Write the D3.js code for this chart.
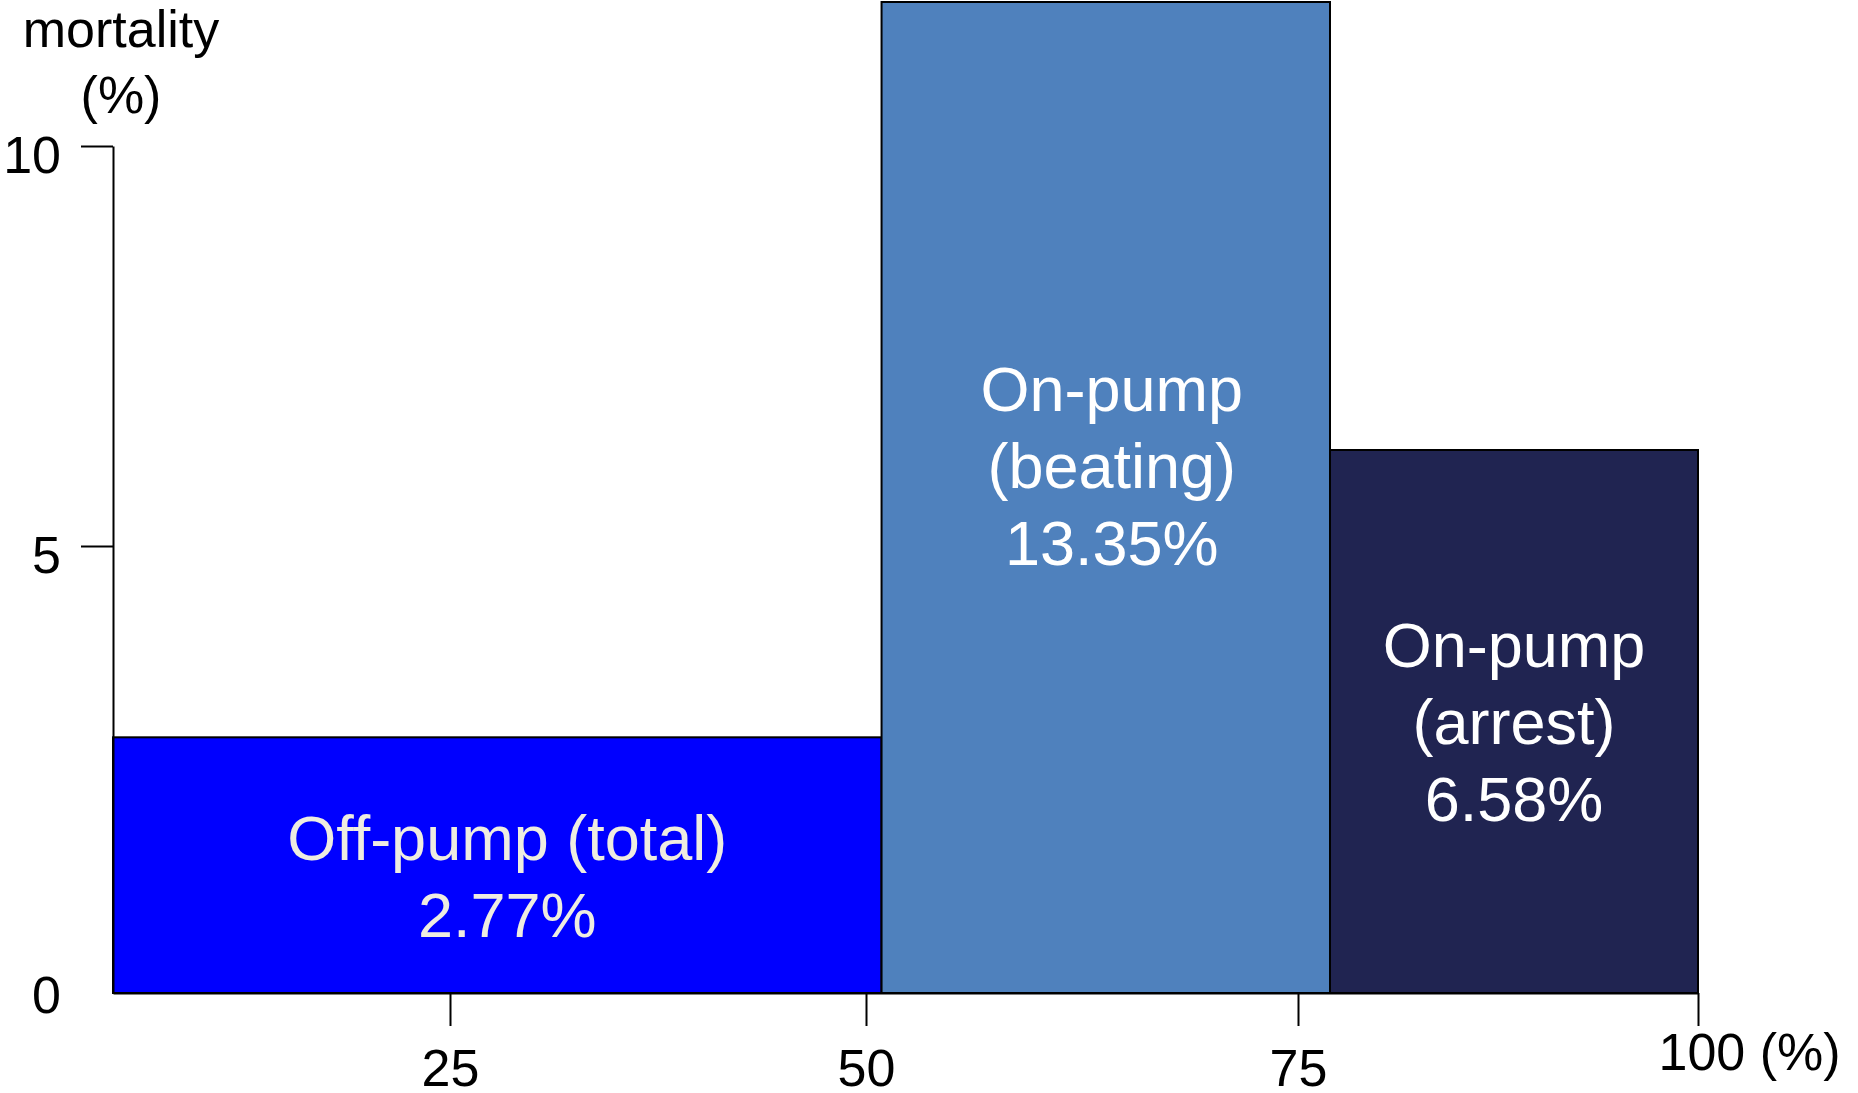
<!DOCTYPE html>
<html>
<head>
<meta charset="utf-8">
<script src="https://cdn.jsdelivr.net/npm/d3@7"></script>
<style>
  body { margin: 0; background: #fff; }
  text { font-family: "Liberation Sans", Arial, sans-serif; }
</style>
</head>
<body>
<script>
// groups, share of patients (x, %) and bar heights
var groups = ["Off-pump (total)", "On-pump (beating)", "On-pump (arrest)"]
var shares = [50.9, 26.1, 23.0]
var heights = [2.86, 11.8, 6.2]
var mortality = ["2.77%", "13.35%", "6.58%"]
var labelLines = [["Off-pump (total)", "2.77%"], ["On-pump", "(beating)", "13.35%"], ["On-pump", "(arrest)", "6.58%"]]
var colors = ["#0000ff", "#4f81bd", "#202451"]
var textColors = ["#eeece1", "#ffffff", "#ffffff"]

var xTicks = [25, 50, 75, 100]
var yTicks = [0, 5, 10]

var width = 1858
var height = 1093

var svg = d3.select("body")
            .append("svg")
            .attr("width", width)
            .attr("height", height)

// axes in the original are not evenly spaced, so the scales are piecewise
var xScale = d3.scaleLinear()
                .domain([0, 25, 50, 75, 100])
                .range([113, 450, 866, 1298, 1698])

var yScale = d3.scaleLinear()
                .domain([0, 5, 10])
                .range([993, 546, 146])

var start = 0
var bars = shares.map(function(s, i){
  var b = {x0: start, x1: start + s, h: heights[i], i: i}
  start += s
  return b
})

svg.selectAll("rect.bar")
   .data(bars)
   .enter()
   .append("rect")
   .attr("class", "bar")
   .attr("x", function(d){ return xScale(d.x0) })
   .attr("y", function(d){ return yScale(d.h) })
   .attr("width", function(d){ return xScale(d.x1) - xScale(d.x0) })
   .attr("height", function(d){ return yScale(0) - yScale(d.h) })
   .attr("fill", function(d){ return colors[d.i] })
   .attr("stroke", "#000")
   .attr("stroke-width", 2)

// labels inside bars (small nudges so they sit like the original)
var fs = 63
var lineGap = 77
var nudgeX = [10, 6, 0]
var nudgeY = [11, -32, 0]
bars.forEach(function(d){
  var lines = labelLines[d.i]
  var cx = (xScale(d.x0) + xScale(d.x1)) / 2 + nudgeX[d.i]
  var cy = (yScale(d.h) + yScale(0)) / 2 + nudgeY[d.i]
  var first = cy - (lines.length - 1) / 2 * lineGap + fs * 0.36
  var t = svg.append("text")
             .attr("text-anchor", "middle")
             .attr("font-size", fs)
             .attr("fill", textColors[d.i])
  lines.forEach(function(l, j){
    t.append("tspan")
     .attr("x", cx)
     .attr("y", first + j * lineGap)
     .text(l)
  })
})

var xAxis = d3.axisBottom(xScale)
              .tickValues(xTicks)
              .tickSize(33)
              .tickSizeOuter(0)
              .tickPadding(23)
              .tickFormat(function(d){ return d == 100 ? "100 (%)" : d })

var yAxis = d3.axisLeft(yScale)
              .tickValues(yTicks)
              .tickSize(32)
              .tickSizeOuter(0)
              .tickPadding(20)

var gx = svg.append("g")
   .attr("class", "axis")
   .attr("transform", "translate(0," + yScale(0) + ")")
   .call(xAxis)

var gy = svg.append("g")
   .attr("class", "axis")
   .attr("transform", "translate(" + xScale(0) + ",0)")
   .call(yAxis)

svg.selectAll(".axis path, .axis line")
   .attr("stroke", "#000")
   .attr("stroke-width", 2)
svg.selectAll(".axis text")
   .attr("font-family", "Liberation Sans, Arial, sans-serif")
   .attr("font-size", 52)
   .attr("fill", "#000")

gy.selectAll(".tick text").attr("dy", "0.5em")
gy.selectAll(".tick").filter(function(d){ return d == 0 }).select("text").attr("dy", "0.38em")
gy.selectAll(".tick").filter(function(d){ return d == 0 }).select("line").remove()

gx.selectAll(".tick").filter(function(d){ return d == 100 }).select("text")
  .attr("text-anchor", "start")
  .attr("x", -40)
  .attr("y", 40)

// y axis title
var title = svg.append("text")
               .attr("text-anchor", "middle")
               .attr("font-size", 52)
               .attr("fill", "#000")
title.append("tspan").attr("x", 121).attr("y", 47).text("mortality")
title.append("tspan").attr("x", 121).attr("y", 113).text("(%)")
</script>
</body>
</html>
